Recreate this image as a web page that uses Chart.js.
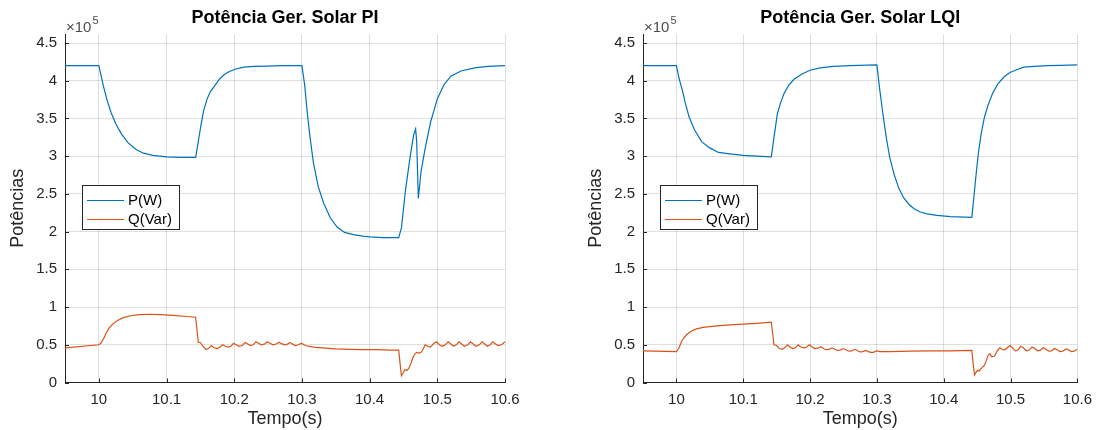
<!DOCTYPE html>
<html><head><meta charset="utf-8">
<script src="https://cdn.jsdelivr.net/npm/chart.js@4.4.1/dist/chart.umd.min.js"></script>
<style>
html,body{margin:0;padding:0;background:#fff;}
#wrap{position:relative;width:1100px;height:430px;}
canvas{position:absolute;top:0;}
</style></head><body>
<div id="wrap"><canvas id="c1" width="550" height="430" style="left:0;width:550px;height:430px"></canvas><canvas id="c2" width="550" height="430" style="left:550px;width:550px;height:430px"></canvas></div>
<script>
// ---------- data (power values in units of 1e5) ----------
const titles = ['Potência Ger. Solar PI', 'Potência Ger. Solar LQI'];
const seriesNames = ['P(W)', 'Q(Var)'];
const xTicks = [10, 10.1, 10.2, 10.3, 10.4, 10.5, 10.6];
const xTickLabels = ['10', '10.1', '10.2', '10.3', '10.4', '10.5', '10.6'];
const yTicks = [0, 0.5, 1, 1.5, 2, 2.5, 3, 3.5, 4, 4.5];
const yTickLabels = ['0', '0.5', '1', '1.5', '2', '2.5', '3', '3.5', '4', '4.5'];
const exponentText = '×10';
const exponentPower = '5';

// PI controller - active power P
const tP_PI = [9.95, 10.0, 10.003, 10.007, 10.012, 10.018, 10.025, 10.033, 10.043, 10.055, 10.066, 10.08, 10.1, 10.12, 10.143, 10.147, 10.151, 10.155, 10.16, 10.165, 10.17, 10.178, 10.185, 10.19, 10.2, 10.214, 10.23, 10.25, 10.27, 10.3, 10.304, 10.308, 10.312, 10.317, 10.324, 10.332, 10.342, 10.352, 10.363, 10.376, 10.39, 10.4, 10.42, 10.443, 10.447, 10.453, 10.46, 10.465, 10.468, 10.4695, 10.472, 10.476, 10.482, 10.49, 10.5, 10.51, 10.52, 10.535, 10.555, 10.575, 10.6];
const vP_PI = [4.2, 4.2, 4.08, 3.92, 3.75, 3.58, 3.43, 3.3, 3.18, 3.09, 3.04, 3.01, 2.99, 2.985, 2.985, 3.2, 3.42, 3.61, 3.76, 3.86, 3.92, 4.02, 4.08, 4.11, 4.15, 4.18, 4.19, 4.195, 4.2, 4.2, 3.95, 3.57, 3.25, 2.91, 2.6, 2.38, 2.18, 2.06, 1.99, 1.96, 1.94, 1.93, 1.92, 1.92, 2.05, 2.55, 3.0, 3.28, 3.36, 3.2, 2.44, 2.8, 3.1, 3.45, 3.76, 3.95, 4.06, 4.13, 4.17, 4.19, 4.2];

// PI controller - reactive power Q
const tQ_PI = [9.95, 10.0, 10.003, 10.007, 10.011, 10.015, 10.02, 10.027, 10.036, 10.047, 10.06, 10.075, 10.09, 10.11, 10.13, 10.143, 10.145, 10.147, 10.150, 10.154, 10.158, 10.162, 10.166, 10.170, 10.175, 10.179, 10.183, 10.187, 10.191, 10.195, 10.199, 10.203, 10.207, 10.212, 10.216, 10.220, 10.224, 10.228, 10.232, 10.236, 10.240, 10.245, 10.249, 10.253, 10.257, 10.262, 10.266, 10.270, 10.274, 10.278, 10.282, 10.286, 10.290, 10.295, 10.299, 10.305, 10.312, 10.32, 10.335, 10.35, 10.37, 10.39, 10.41, 10.43, 10.443, 10.445, 10.447, 10.449, 10.452, 10.455, 10.458, 10.461, 10.464, 10.467, 10.470, 10.473, 10.476, 10.479, 10.482, 10.486, 10.490, 10.495, 10.499, 10.503, 10.507, 10.512, 10.516, 10.520, 10.524, 10.528, 10.532, 10.536, 10.540, 10.545, 10.549, 10.553, 10.557, 10.562, 10.566, 10.570, 10.574, 10.578, 10.582, 10.586, 10.590, 10.595, 10.6];
const vQ_PI = [0.46, 0.50, 0.52, 0.58, 0.66, 0.72, 0.77, 0.82, 0.86, 0.885, 0.90, 0.905, 0.90, 0.89, 0.875, 0.865, 0.70, 0.53, 0.53, 0.48, 0.44, 0.45, 0.49, 0.46, 0.45, 0.47, 0.50, 0.48, 0.47, 0.48, 0.52, 0.50, 0.48, 0.49, 0.53, 0.51, 0.49, 0.50, 0.54, 0.52, 0.50, 0.51, 0.54, 0.52, 0.50, 0.51, 0.535, 0.515, 0.50, 0.505, 0.53, 0.51, 0.49, 0.50, 0.52, 0.49, 0.475, 0.465, 0.455, 0.445, 0.44, 0.435, 0.435, 0.43, 0.43, 0.25, 0.09, 0.12, 0.17, 0.16, 0.19, 0.25, 0.33, 0.38, 0.40, 0.39, 0.40, 0.44, 0.50, 0.48, 0.47, 0.52, 0.54, 0.50, 0.48, 0.50, 0.54, 0.51, 0.48, 0.50, 0.54, 0.51, 0.48, 0.50, 0.54, 0.51, 0.48, 0.50, 0.54, 0.51, 0.48, 0.50, 0.54, 0.51, 0.49, 0.50, 0.54];

// LQI controller - active power P
const tP_LQI = [9.95, 10.0, 10.004, 10.009, 10.014, 10.019, 10.027, 10.038, 10.05, 10.063, 10.08, 10.1, 10.12, 10.142, 10.146, 10.151, 10.156, 10.161, 10.168, 10.176, 10.188, 10.2, 10.215, 10.235, 10.26, 10.3, 10.304, 10.309, 10.314, 10.319, 10.326, 10.333, 10.34, 10.348, 10.356, 10.365, 10.375, 10.39, 10.41, 10.442, 10.445, 10.449, 10.452, 10.456, 10.461, 10.466, 10.473, 10.481, 10.49, 10.499, 10.51, 10.52, 10.535, 10.555, 10.575, 10.6];
const vP_LQI = [4.2, 4.2, 4.03, 3.87, 3.68, 3.52, 3.35, 3.19, 3.11, 3.05, 3.03, 3.01, 3.0, 2.99, 3.25, 3.56, 3.71, 3.83, 3.94, 4.02, 4.09, 4.14, 4.17, 4.19, 4.2, 4.21, 3.9, 3.56, 3.25, 2.99, 2.75, 2.57, 2.45, 2.36, 2.30, 2.26, 2.235, 2.215, 2.20, 2.19, 2.45, 2.81, 3.05, 3.30, 3.52, 3.67, 3.83, 3.96, 4.05, 4.11, 4.15, 4.18, 4.19, 4.2, 4.205, 4.21];

// LQI controller - reactive power Q
const tQ_LQI = [9.95, 10.0, 10.004, 10.008, 10.012, 10.016, 10.022, 10.03, 10.04, 10.05, 10.065, 10.08, 10.1, 10.12, 10.142, 10.144, 10.146, 10.150, 10.154, 10.158, 10.162, 10.166, 10.170, 10.174, 10.178, 10.182, 10.186, 10.191, 10.195, 10.199, 10.203, 10.207, 10.212, 10.216, 10.220, 10.224, 10.228, 10.233, 10.237, 10.241, 10.245, 10.250, 10.254, 10.258, 10.262, 10.267, 10.271, 10.275, 10.279, 10.283, 10.287, 10.291, 10.295, 10.299, 10.305, 10.32, 10.35, 10.38, 10.41, 10.442, 10.444, 10.446, 10.448, 10.451, 10.453, 10.455, 10.458, 10.461, 10.464, 10.467, 10.469, 10.472, 10.476, 10.480, 10.484, 10.487, 10.491, 10.495, 10.499, 10.503, 10.507, 10.511, 10.515, 10.519, 10.524, 10.528, 10.532, 10.536, 10.540, 10.544, 10.549, 10.553, 10.557, 10.561, 10.566, 10.570, 10.574, 10.578, 10.583, 10.587, 10.591, 10.595, 10.6];
const vQ_LQI = [0.42, 0.41, 0.46, 0.55, 0.60, 0.64, 0.68, 0.71, 0.73, 0.74, 0.755, 0.765, 0.775, 0.785, 0.80, 0.65, 0.50, 0.49, 0.45, 0.44, 0.46, 0.50, 0.47, 0.45, 0.46, 0.50, 0.47, 0.46, 0.47, 0.50, 0.47, 0.45, 0.455, 0.475, 0.45, 0.435, 0.44, 0.46, 0.44, 0.425, 0.43, 0.45, 0.43, 0.415, 0.42, 0.44, 0.42, 0.405, 0.41, 0.425, 0.41, 0.40, 0.40, 0.42, 0.41, 0.41, 0.415, 0.42, 0.42, 0.425, 0.25, 0.10, 0.13, 0.165, 0.15, 0.18, 0.20, 0.23, 0.30, 0.37, 0.38, 0.34, 0.35, 0.42, 0.46, 0.44, 0.43, 0.46, 0.49, 0.46, 0.42, 0.43, 0.48, 0.46, 0.42, 0.43, 0.47, 0.45, 0.42, 0.425, 0.46, 0.44, 0.415, 0.42, 0.45, 0.43, 0.41, 0.415, 0.445, 0.43, 0.41, 0.415, 0.44];

// ---------- chart building ----------
const FONT = "'Liberation Sans', Arial, Helvetica, sans-serif";
const AX = '#262626';
const GRID = 'rgba(38,38,38,0.15)';
const BLUE = '#0072BD';
const ORANGE = '#D95319';

function zip(t, v) { return t.map((x, i) => ({ x: x, y: v[i] })); }

const decorPlugin = {
  id: 'decor',
  afterDraw(chart, args, opts) {
    const ctx = chart.ctx, a = chart.chartArea;
    const xs = chart.scales.x, ys = chart.scales.y;
    ctx.save();
    // inward tick marks
    ctx.strokeStyle = AX; ctx.lineWidth = 1;
    ctx.beginPath();
    xTicks.forEach(v => { const px = Math.round(xs.getPixelForValue(v)) + 0.5; ctx.moveTo(px, a.bottom); ctx.lineTo(px, a.bottom - 4); });
    yTicks.forEach(v => { const py = Math.round(ys.getPixelForValue(v)) + 0.5; ctx.moveTo(a.left, py); ctx.lineTo(a.left + 4, py); });
    ctx.stroke();
    // title
    ctx.fillStyle = '#000';
    ctx.font = 'bold 18px ' + FONT;
    ctx.textAlign = 'center'; ctx.textBaseline = 'middle';
    ctx.fillText(opts.title, (a.left + a.right) / 2, 18);
    // exponent
    ctx.fillStyle = '#4d4d4d';
    ctx.textAlign = 'left'; ctx.textBaseline = 'alphabetic';
    ctx.font = '15px ' + FONT;
    ctx.fillText(exponentText, a.left + 1, 32);
    const w = ctx.measureText(exponentText).width;
    ctx.font = '11px ' + FONT;
    ctx.fillText(exponentPower, a.left + 1 + w + 1, 24);
    // legend
    const lx = a.left + 17, ly = 185, lw = 97, lh = 44;
    ctx.fillStyle = '#fff';
    ctx.fillRect(lx, ly, lw, lh);
    ctx.strokeStyle = '#262626'; ctx.lineWidth = 1;
    ctx.strokeRect(lx + 0.5, ly + 0.5, lw, lh);
    ctx.font = '15px ' + FONT;
    ctx.textBaseline = 'middle';
    chart.data.datasets.forEach((ds, i) => {
      const yy = ly + 15 + i * 19;
      ctx.strokeStyle = ds.borderColor; ctx.lineWidth = 1.2;
      ctx.beginPath(); ctx.moveTo(lx + 5, yy + 0.5); ctx.lineTo(lx + 42, yy + 0.5); ctx.stroke();
      ctx.fillStyle = '#000';
      ctx.fillText(ds.label, lx + 46, yy + 1);
    });
    ctx.restore();
  }
};

function makeChart(id, title, tP, vP, tQ, vQ, padL, padR) {
  return new Chart(document.getElementById(id), {
    type: 'line',
    data: {
      datasets: [
        { label: seriesNames[0], data: zip(tP, vP), borderColor: BLUE, borderWidth: 1.2, pointRadius: 0, tension: 0, fill: false },
        { label: seriesNames[1], data: zip(tQ, vQ), borderColor: ORANGE, borderWidth: 1.2, pointRadius: 0, tension: 0, fill: false }
      ]
    },
    options: {
      responsive: false, animation: false, devicePixelRatio: 1,
      layout: { padding: { left: padL, right: padR, top: 34, bottom: 0 } },
      plugins: { legend: { display: false }, tooltip: { enabled: false }, title: { display: false }, decor: { title: title } },
      scales: {
        x: {
          type: 'linear', min: 9.95, max: 10.6,
          afterBuildTicks: s => { s.ticks = xTicks.map(v => ({ value: v })); },
          afterFit: s => { s.height = 47.5; },
          ticks: { callback: (v, i) => xTickLabels[i], padding: 8, color: AX, font: { family: FONT, size: 15 }, maxRotation: 0, autoSkip: false },
          grid: { color: GRID, drawTicks: false },
          border: { color: AX, width: 1 },
          title: { display: true, text: 'Tempo(s)', color: AX, font: { family: FONT, size: 18 }, padding: { top: 0, bottom: 0 } }
        },
        y: {
          min: 0, max: 4.62,
          afterBuildTicks: s => { s.ticks = yTicks.map(v => ({ value: v })); },
          afterFit: s => { s.width = 65; },
          ticks: { callback: (v, i) => yTickLabels[i], padding: 8, color: AX, font: { family: FONT, size: 15 } },
          grid: { color: GRID, drawTicks: false },
          border: { color: AX, width: 1 },
          title: { display: true, text: 'Potências', color: AX, font: { family: FONT, size: 18 }, padding: { top: 7, bottom: 0 } }
        }
      }
    },
    plugins: [decorPlugin]
  });
}

makeChart('c1', titles[0], tP_PI, vP_PI, tQ_PI, vQ_PI, 0, 45);
makeChart('c2', titles[1], tP_LQI, vP_LQI, tQ_LQI, vQ_LQI, 28, 16);
</script>
</body></html>
